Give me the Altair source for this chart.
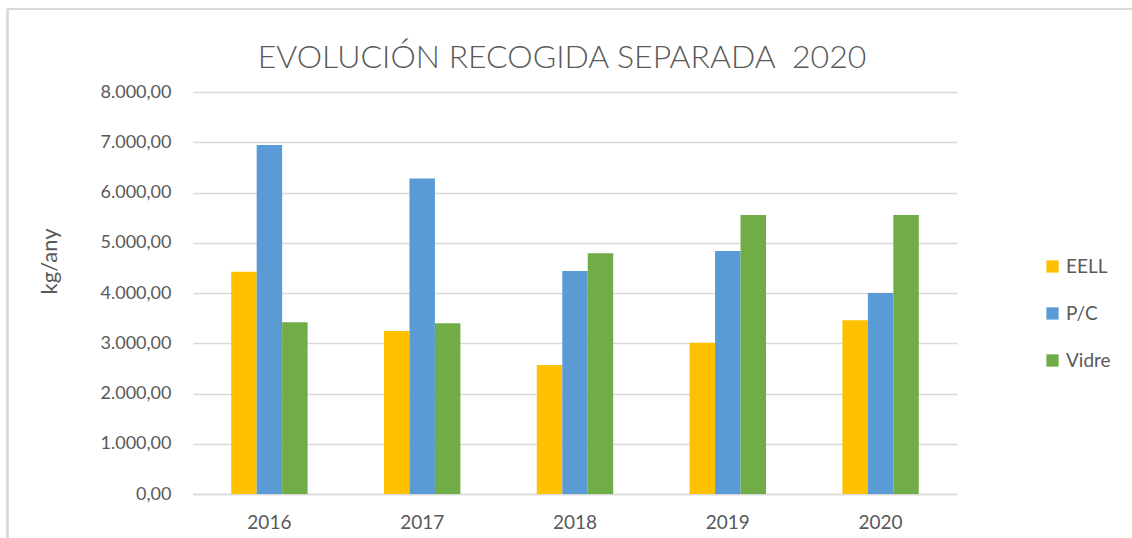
import altair as alt
import pandas as pd

years = ["2016", "2017", "2018", "2019", "2020"]
series = ["EELL", "P/C", "Vidre"]
eell = [4425, 3245, 2565, 3010, 3460]
pc = [6945, 6280, 4440, 4835, 4000]
vidre = [3420, 3400, 4790, 5550, 5550]
colors = ["#FFC000", "#5B9BD5", "#70AD47"]
title_text = "EVOLUCIÓN RECOGIDA SEPARADA \u00a02020"

rows = []
for i, y in enumerate(years):
    for s, vals in zip(series, [eell, pc, vidre]):
        rows.append({"year": y, "serie": s, "value": vals[i]})
df = pd.DataFrame(rows)

FONT = "Lato"
TXT = "#595959"

label_expr = "replace(replace(replace(format(datum.value, ',.2f'), ',', 'X'), '.', ','), 'X', '.')"

bars = alt.Chart(df).mark_bar().encode(
    x=alt.X("year:N", sort=years, title=None,
            scale=alt.Scale(paddingInner=0.5, paddingOuter=0.25),
            axis=alt.Axis(labelAngle=0, labelFont=FONT, labelFontSize=19, labelColor=TXT,
                          labelPadding=19, ticks=False, domainColor="#D9D9D9", domainWidth=1.5,
                          grid=False)),
    xOffset=alt.XOffset("serie:N", sort=series),
    y=alt.Y("value:Q", title="kg/any",
            scale=alt.Scale(domain=[0, 8000], nice=False),
            axis=alt.Axis(values=[0, 1000, 2000, 3000, 4000, 5000, 6000, 7000, 8000],
                          labelExpr=label_expr, labelFont=FONT, labelFontSize=18,
                          labelColor=TXT, labelPadding=22, ticks=False, domain=False,
                          gridColor="#D9D9D9", gridWidth=1.5,
                          titleFont=FONT, titleFontSize=22, titleColor=TXT,
                          titleFontWeight="normal", titleAngle=270,
                          titleX=-144, titleY=169, titleAlign="center",
                          titleBaseline="middle")),
    color=alt.Color("serie:N", sort=series,
                    scale=alt.Scale(domain=series, range=colors),
                    legend=alt.Legend(title=None, orient="none", legendX=850, legendY=165,
                                      symbolType="square", symbolSize=150,
                                      symbolStrokeWidth=0,
                                      labelFont=FONT, labelFontSize=19, labelColor=TXT,
                                      rowPadding=27, labelOffset=4)),
)

top_border = alt.Chart(df).mark_rule(color="#D9D9D9", strokeWidth=1.5).encode(
    x=alt.value(-186), x2=alt.value(950), y=alt.value(-83)
)
left_border = alt.Chart(df).mark_rule(color="#D9D9D9", strokeWidth=1.5).encode(
    x=alt.value(-185.5), y=alt.value(-83), y2=alt.value(460)
)
title = alt.Chart(df).transform_filter("datum.year == '2016' && datum.serie == 'EELL'").mark_text(
    font=FONT, fontSize=32, fontWeight=300, color=TXT, align="center", baseline="alphabetic"
).encode(x=alt.value(369), y=alt.value(-24), text=alt.value(title_text))

chart = alt.layer(top_border, left_border, bars, title).properties(
    width=764,
    height=402,
    autosize=alt.AutoSizeParams(type="none"),
    padding={"left": 193, "top": 92, "right": 175, "bottom": 44},
    background="white",
).configure_view(stroke=None)

chart.save("out.html", embed_options={"renderer": "svg", "actions": False})
